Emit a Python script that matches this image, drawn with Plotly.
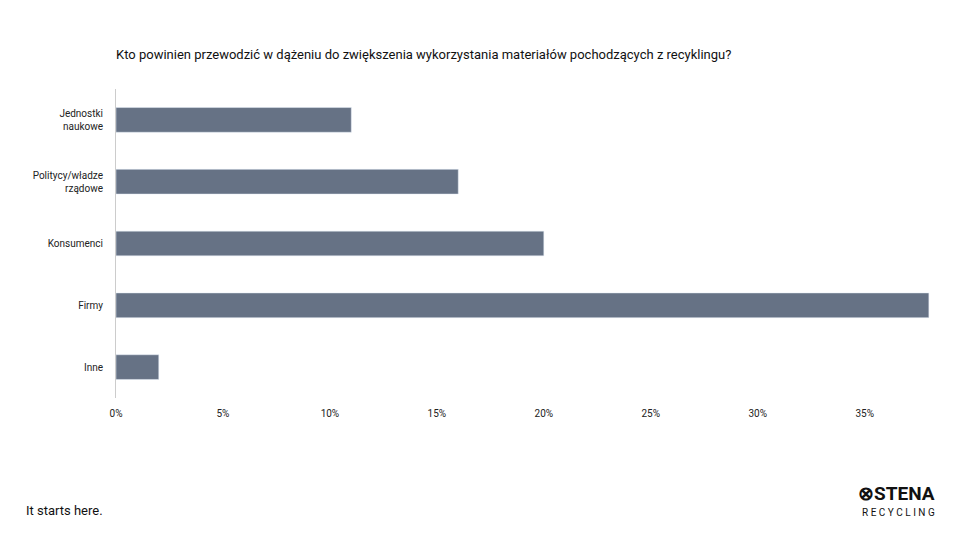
import plotly.graph_objects as go

categories = ["Jednostki<br>naukowe", "Politycy/władze<br>rządowe", "Konsumenci", "Firmy", "Inne"]
values = [11, 16, 20, 38, 2]
tick_vals = [0, 5, 10, 15, 20, 25, 30, 35]
tick_text = ["0%", "5%", "10%", "15%", "20%", "25%", "30%", "35%"]

# plot area in page pixels: x 116..931, y 89..398 (page has an 8px body offset)
L, R, T, B = 116, 931, 89, 398
W, H = R - L, B - T


def px(x):
    return (x - L) / W


def py(y):
    return (B - y) / H


fig = go.Figure(go.Bar(
    x=values, y=categories, orientation="h",
    marker=dict(color="#667285"), width=0.4,
))

fig.update_layout(
    width=960, height=540,
    margin=dict(l=L - 8, r=960 - R + 8, t=T - 8, b=540 - B + 8),
    plot_bgcolor="white", paper_bgcolor="white",
    font=dict(family="Roboto, sans-serif", size=10, color="#222"),
    showlegend=False,
    xaxis=dict(range=[0, 38.1], tickvals=tick_vals, ticktext=tick_text,
               showgrid=False, zeroline=False, showline=False,
               ticks="", ticklabelstandoff=8),
    yaxis=dict(autorange="reversed", showgrid=False, zeroline=False,
               showline=True, linecolor="#cccccc", linewidth=1,
               ticks="", ticklabelstandoff=10),
)

fig.add_annotation(text="Kto powinien przewodzić w dążeniu do zwiększenia wykorzystania materiałów pochodzących z recyklingu?",
                   xref="paper", yref="paper", x=px(114), y=py(55),
                   xanchor="left", yanchor="middle", showarrow=False,
                   font=dict(size=13, color="#111"))
fig.add_annotation(text="It starts here.", xref="paper", yref="paper",
                   x=px(24), y=py(510), xanchor="left", yanchor="middle",
                   showarrow=False, font=dict(size=13, color="#111"))
fig.add_annotation(text="<b>⊗STENA</b>", xref="paper", yref="paper",
                   x=px(937), y=py(493), xanchor="right", yanchor="middle",
                   showarrow=False, font=dict(size=19, color="#111"))
fig.add_annotation(text="R E C Y C L I N G", xref="paper", yref="paper",
                   x=px(937), y=py(512), xanchor="right", yanchor="middle",
                   showarrow=False, font=dict(size=10, color="#111"))

fig.write_html("out.html")
